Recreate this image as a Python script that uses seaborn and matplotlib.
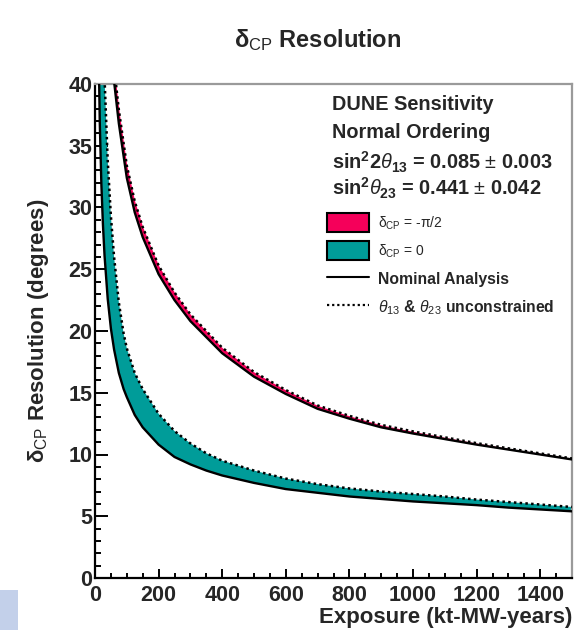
import numpy as np
import pandas as pd
import seaborn as sns
import matplotlib
matplotlib.use("Agg")
import matplotlib.pyplot as plt
from matplotlib.patches import Patch, Rectangle
from matplotlib.lines import Line2D
from matplotlib.ticker import MultipleLocator

# ---------------- data ----------------
red_x = [50, 60, 75, 100, 125, 150, 200, 250, 300, 400, 500, 600, 700, 800,
         900, 1000, 1100, 1200, 1300, 1400, 1500]
red_nominal = [42.8, 40.2, 36.8, 32.4, 29.6, 27.6, 24.6, 22.5, 20.8, 18.2, 16.3,
               14.9, 13.7, 12.9, 12.2, 11.7, 11.25, 10.8, 10.4, 10.0, 9.6]
red_unconstrained = [44.1, 41.4, 37.9, 33.4, 30.5, 28.42, 25.3, 23.12, 21.35, 18.65,
                     16.68, 15.22, 13.97, 13.13, 12.4, 11.87, 11.39, 10.92, 10.5,
                     10.09, 9.68]

teal_x = [10, 15, 20, 25, 30, 40, 50, 60, 75, 90, 100, 125, 150, 200, 250, 300,
          350, 400, 500, 600, 700, 800, 900, 1000, 1100, 1200, 1300, 1400, 1500]
teal_nominal = [45.0, 36.9, 31.9, 28.6, 26.1, 22.6, 20.2, 18.5, 16.6, 15.3, 14.65,
                13.2, 12.2, 10.8, 9.8, 9.2, 8.7, 8.3, 7.7, 7.2, 6.9, 6.6, 6.4,
                6.2, 6.05, 5.9, 5.7, 5.55, 5.4]
teal_unconstrained = [70.0, 56.0, 48.5, 44.0, 40.5, 33.8, 29.3, 26.0, 22.3, 19.8,
                      18.6, 16.6, 15.3, 13.3, 11.9, 10.9, 10.1, 9.5, 8.7, 8.05,
                      7.6, 7.25, 7.0, 6.8, 6.6, 6.35, 6.15, 5.95, 5.75]

x_ticks = [0, 200, 400, 600, 800, 1000, 1200, 1400]
y_ticks = [0, 5, 10, 15, 20, 25, 30, 35, 40]

header_lines = ["DUNE Sensitivity", "Normal Ordering",
                r"sin$^{\mathbf{2}}$2$\theta_{\mathbf{13}}$ = 0.085 $\pm$ 0.003",
                r"sin$^{\mathbf{2}}$$\theta_{\mathbf{23}}$ = 0.441 $\pm$ 0.042"]
legend_labels = [r"δ$_{\rm CP}$ = -π/2", r"δ$_{\rm CP}$ = 0",
                 "Nominal Analysis",
                 r"$\theta_{13}$ & $\theta_{23}$ unconstrained"]

RED = "#f5005a"
TEAL = "#009c99"

# ---------------- style ----------------
sns.set_theme(style="ticks")
plt.rcParams["font.family"] = ["Liberation Sans", "DejaVu Sans"]
plt.rcParams["mathtext.fontset"] = "custom"
plt.rcParams["mathtext.rm"] = "Liberation Sans"
plt.rcParams["mathtext.it"] = "Liberation Sans:italic"
plt.rcParams["mathtext.bf"] = "Liberation Sans:bold"
plt.rcParams["mathtext.sf"] = "Liberation Sans"

W, H = 587, 630
fig = plt.figure(figsize=(W / 100, H / 100), dpi=100)
L, R, T, B = 95, 572, 84, 578
ax = fig.add_axes([L / W, 1 - B / H, (R - L) / W, (B - T) / H])

df_red = pd.DataFrame({"x": red_x, "nom": red_nominal, "unc": red_unconstrained})
df_teal = pd.DataFrame({"x": teal_x, "nom": teal_nominal, "unc": teal_unconstrained})

for df, col in [(df_teal, TEAL), (df_red, RED)]:
    ax.fill_between(df["x"], df["nom"], df["unc"], color=col, linewidth=0, zorder=1)
    sns.lineplot(data=df, x="x", y="nom", ax=ax, color="black", linewidth=1.7,
                 zorder=3)
    sns.lineplot(data=df, x="x", y="unc", ax=ax, color="black", linewidth=1.8,
                 linestyle=(0, (1.0, 1.3)), zorder=3)

ax.set_xlim(0, 1500)
ax.set_ylim(0, 40)
ax.set_xticks(x_ticks)
ax.set_yticks(y_ticks)
ax.xaxis.set_minor_locator(MultipleLocator(50))
ax.yaxis.set_minor_locator(MultipleLocator(1))
ax.tick_params(axis="both", which="both", direction="in", width=1.4,
               color="black", top=False, right=False)
ax.tick_params(axis="x", which="major", length=6.5, pad=5)
ax.tick_params(axis="x", which="minor", length=3.5)
ax.tick_params(axis="y", which="major", length=9, pad=2)
ax.tick_params(axis="y", which="minor", length=4)
for lab in ax.get_xticklabels() + ax.get_yticklabels():
    lab.set_fontsize(15.5)
    lab.set_fontweight("bold")

for s in ["left", "bottom"]:
    ax.spines[s].set_color("black")
    ax.spines[s].set_linewidth(1.6)
for s in ["top", "right"]:
    ax.spines[s].set_visible(True)
    ax.spines[s].set_color("#9a9a9a")
    ax.spines[s].set_linewidth(1.6)

ax.set_xlabel("Exposure (kt-MW-years)", fontsize=16, fontweight="bold",
              ha="right")
ax.xaxis.set_label_coords(1.0, -0.058)
ax.set_ylabel(r"δ$_{\rm CP}$ Resolution (degrees)", fontsize=16,
              fontweight="bold")
ax.yaxis.set_label_coords(-0.092, 0.5)

fig.text(318 / W, 1 - 40 / H, r"δ$_{\rm CP}$ Resolution", fontsize=17,
         fontweight="bold", ha="center", va="center")

# header text inside the plot
hy = [105, 133, 162, 188]
for txt, yy in zip(header_lines, hy):
    ax.text((332 - L) / (R - L), (B - yy) / (B - T), txt, transform=ax.transAxes,
            fontsize=14.3, fontweight="bold", ha="left", va="center")

handles = [Patch(facecolor=RED, edgecolor="black", linewidth=1.5),
           Patch(facecolor=TEAL, edgecolor="black", linewidth=1.5),
           Line2D([], [], color="black", linewidth=1.5),
           Line2D([], [], color="black", linewidth=1.6, linestyle=(0, (1.0, 1.3)))]
leg = ax.legend(handles, legend_labels, loc="upper left",
                bbox_to_anchor=((327 - L) / (R - L), (B - 213) / (B - T)),
                frameon=False, fontsize=11.3, borderpad=0, borderaxespad=0,
                handlelength=2.65, handleheight=1.45, handletextpad=0.6,
                labelspacing=0.6)
for i, t in enumerate(leg.get_texts()):
    if i >= 2:
        t.set_fontweight("bold")
    else:
        t.set_fontsize(10)

# light blue decoration at bottom-left corner
fig.add_artist(Rectangle((0, 0), 18 / W, 40 / H, transform=fig.transFigure,
                         facecolor="#c3d0ea", edgecolor="none"))

fig.savefig("out.png", dpi=100)
